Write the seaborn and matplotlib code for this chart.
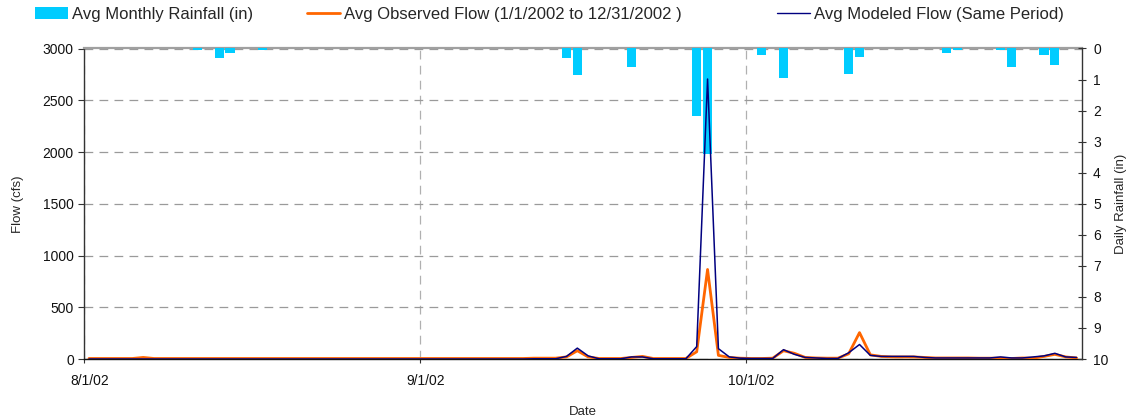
import numpy as np
import pandas as pd
import matplotlib
matplotlib.use("Agg")
import matplotlib.pyplot as plt
import matplotlib.transforms as mtransforms
from matplotlib.patches import Patch
from matplotlib.lines import Line2D
import seaborn as sns

# ---------------- data ----------------
start_date = "2002-08-01"
end_date = "2002-10-31"
dates = pd.date_range(start_date, end_date, freq="D")   # 92 days

rainfall_in = [
    0, 0, 0, 0, 0, 0, 0, 0, 0, 0,
    0.05, 0, 0.29, 0.13, 0, 0, 0.05, 0, 0, 0,
    0, 0, 0, 0, 0, 0, 0, 0, 0, 0,
    0, 0, 0, 0, 0, 0, 0, 0, 0, 0,
    0, 0, 0, 0, 0.32, 0.86, 0, 0, 0, 0,
    0.58, 0, 0, 0, 0, 0, 2.16, 3.39, 0, 0,
    0, 0, 0.22, 0, 0.94, 0, 0, 0, 0, 0,
    0.81, 0.26, 0, 0, 0, 0, 0, 0, 0, 0.13,
    0.06, 0, 0, 0, 0.06, 0.61, 0, 0, 0.22, 0.52,
    0, 0,
]

observed_cfs = [
    5, 5, 5, 5, 5, 15, 5, 5, 5, 5,
    5, 5, 5, 5, 5, 5, 5, 5, 5, 5,
    5, 5, 5, 5, 5, 5, 5, 5, 5, 5,
    5, 5, 5, 5, 5, 5, 5, 5, 5, 5,
    5, 8, 8, 8, 20, 80, 20, 5, 5, 5,
    15, 25, 5, 5, 5, 5, 70, 865, 35, 15,
    8, 5, 5, 8, 80, 55, 15, 10, 8, 8,
    50, 255, 40, 25, 20, 20, 20, 15, 10, 10,
    10, 10, 8, 8, 8, 5, 10, 8, 25, 45,
    20, 10,
]

modeled_cfs = [
    0, 0, 0, 0, 0, 0, 0, 0, 0, 0,
    0, 0, 0, 0, 0, 0, 0, 0, 0, 0,
    0, 0, 0, 0, 0, 0, 0, 0, 0, 0,
    0, 0, 0, 0, 0, 0, 0, 0, 0, 0,
    0, 2, 2, 2, 25, 105, 30, 2, 2, 2,
    20, 20, 2, 2, 2, 2, 120, 2705, 100, 20,
    8, 5, 5, 5, 90, 45, 15, 10, 5, 5,
    60, 140, 35, 25, 25, 25, 25, 15, 10, 10,
    10, 10, 10, 10, 20, 10, 10, 20, 30, 55,
    20, 15,
]

tick_dates = ["2002-08-01", "2002-09-01", "2002-10-01"]
tick_labels = ["8/1/02", "9/1/02", "10/1/02"]
legend_labels = [
    "Avg Monthly Rainfall (in)",
    "Avg Observed Flow (1/1/2002 to 12/31/2002 )",
    "Avg Modeled Flow (Same Period)",
]

# ---------------- styling ----------------
sns.set_style("white")
plt.rcParams["font.family"] = ["Liberation Sans", "DejaVu Sans"]

BAR_C = "#00CCFF"
OBS_C = "#FF6600"
MOD_C = "#000080"
GRID_C = "#9a9a9a"

t0 = pd.Timestamp(start_date)
# each day is a category interval; values sit in the middle of the day
day_pos = (dates - t0).days.values + 0.5
n_days = len(dates)

df = pd.DataFrame({"day": day_pos, "rain": rainfall_in,
                   "obs": observed_cfs, "mod": modeled_cfs})

fig = plt.figure(figsize=(11.30, 4.19), dpi=100)
W, H = 1130, 419
L, R, T, B = 83.5, 1082, 48.5, 359
ax = fig.add_axes([L / W, (H - B) / H, (R - L) / W, (B - T) / H])
ax2 = ax.twinx()   # rainfall (inverted)
ax3 = ax.twinx()   # flow lines on top

# rainfall bars
sns.barplot(data=df, x="day", y="rain", ax=ax2, native_scale=True,
            color=BAR_C, saturation=1, width=0.85, errorbar=None,
            linewidth=0)
ax2.set_ylim(10, 0)

# flow lines
sns.lineplot(data=df, x="day", y="obs", ax=ax3, color=OBS_C, lw=2.0)
sns.lineplot(data=df, x="day", y="mod", ax=ax3, color=MOD_C, lw=1.1)
ax3.set_ylim(0, 3000)
ax3.set_axis_off()

# base axis
ax.set_ylim(0, 3000)
ax.set_xlim(0, n_days)
tick_pos = [(pd.Timestamp(d) - t0).days for d in tick_dates]
ax.set_xticks(tick_pos)
ax.set_xticklabels(tick_labels)
ax.set_yticks(np.arange(0, 3001, 500))
ax.tick_params(axis="y", which="major", direction="out", length=4,
               width=0.8, color="#333333", labelsize=10, pad=3,
               left=True, labelcolor="#111111")
ax.tick_params(axis="x", which="major", direction="out", length=3,
               width=0.8, color="#333333", labelsize=10, pad=8,
               bottom=True, labelcolor="#111111")
# Excel-style offset of date labels
offset = mtransforms.ScaledTranslation(6 / 100, 0, fig.dpi_scale_trans)
for lab in ax.get_xticklabels():
    lab.set_transform(lab.get_transform() + offset)

ax.grid(axis="y", color=GRID_C, lw=0.9, ls=(0, (7, 5)))
ax.grid(axis="x", color="#b0b0b0", lw=0.9, ls=(0, (7, 5)))
ax.set_axisbelow(True)

ax.set_xlabel("Date", fontsize=9.5, labelpad=13)
ax.set_ylabel("Flow (cfs)", fontsize=9.5)
ax.yaxis.set_label_coords(-0.060, 0.5)

ax2.set_yticks(np.arange(0, 11, 1))
ax2.tick_params(axis="y", direction="inout", length=6, width=0.8,
                color="#333333", labelsize=10, pad=5, right=True,
                labelcolor="#111111")
ax2.set_ylabel("Daily Rainfall (in)", fontsize=9.5, rotation=90)
ax2.yaxis.set_label_position("right")
ax2.yaxis.set_label_coords(1.0335, 0.5)
ax2.set_xlabel("")

for a in (ax, ax2):
    for s in a.spines.values():
        s.set_visible(False)
ax.spines["left"].set_visible(True)
ax.spines["left"].set_color("#333333")
ax.spines["left"].set_linewidth(1.0)
ax.spines["bottom"].set_visible(True)
ax.spines["bottom"].set_color("#111111")
ax.spines["bottom"].set_linewidth(1.0)
ax.spines["top"].set_visible(True)
ax.spines["top"].set_color("#a0a0a0")
ax.spines["top"].set_linewidth(1.6)
ax2.spines["right"].set_visible(True)
ax2.spines["right"].set_color("#333333")
ax2.spines["right"].set_linewidth(1.0)

# legend: one entry per legend so each sits where the reference has it
handles = [Patch(facecolor=BAR_C, edgecolor="none"),
           Line2D([], [], color=OBS_C, lw=2.0),
           Line2D([], [], color=MOD_C, lw=1.0)]
legend_x = [35, 307, 777]
for h, lab, lx in zip(handles, legend_labels, legend_x):
    fig.legend(handles=[h], labels=[lab], loc="upper left",
               bbox_to_anchor=(lx / W, 1 - 7 / H),
               frameon=False, fontsize=12, handlelength=1.95,
               handleheight=0.75, handletextpad=0.3,
               borderpad=0, borderaxespad=0)

fig.savefig("out.png", dpi=100)
